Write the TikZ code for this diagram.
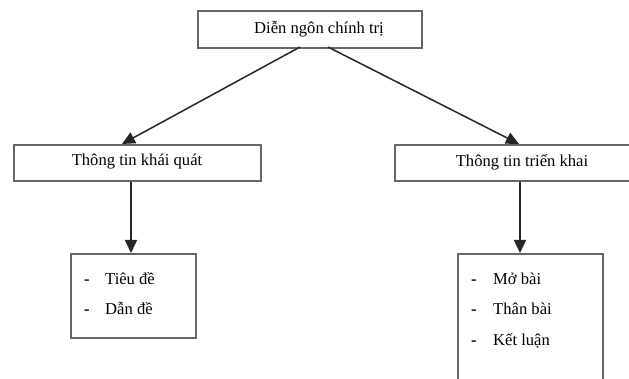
\documentclass[tikz,border=0pt]{standalone}
\usepackage{fontspec}
\setmainfont{Liberation Serif}
\usetikzlibrary{arrows.meta}
\begin{document}
\begin{tikzpicture}[x=1pt,y=-1pt,
  box/.style={draw=black!60,line width=1.8pt,inner sep=0pt,anchor=north west},
  lbl/.style={font=\fontsize{16.6}{18}\selectfont,inner sep=0pt},
  item/.style={font=\fontsize{16.6}{18}\selectfont,inner sep=0pt,anchor=base west},
  dsh/.style={font=\fontsize{16.6}{18}\selectfont\bfseries,inner sep=0pt,anchor=base west},
  conn/.style={draw=black!85,line width=1.5pt,-{Triangle[length=13pt,width=12pt]}}]
\useasboundingbox (0,0) rectangle (629,379);
\clip (0,0) rectangle (629,379);
\node[box,minimum width=224pt,minimum height=37pt] (top) at (197,10) {};
\node[lbl] (toptxt) at (319,29) {Diễn ngôn chính trị};
\node[box,minimum width=247pt,minimum height=36pt] (left) at (13,144) {};
\node[lbl] (lefttxt) at (137,162) {Thông tin khái quát};
\node[box,minimum width=260pt,minimum height=36pt] (right) at (394,144) {};
\node[lbl] (righttxt) at (522,162) {Thông tin triển khai};
\node[box,minimum width=125pt,minimum height=84pt] (lb) at (70,253) {};
\node[box,minimum width=145pt,minimum height=140pt] (rb) at (457,253) {};
\node[dsh] (l1d) at (84,285) {-};
\node[item] (l1) at (105,285) {Tiêu đề};
\node[dsh] (l2d) at (84,315) {-};
\node[item] (l2) at (105,315) {Dẫn đề};
\node[dsh] (r1d) at (471,285) {-};
\node[item] (r1) at (493,285) {Mở bài};
\node[dsh] (r2d) at (471,315) {-};
\node[item] (r2) at (493,315) {Thân bài};
\node[dsh] (r3d) at (471,345) {-};
\node[item] (r3) at (493,345) {Kết luận};
\coordinate (ts1) at (300,47);
\coordinate (ts2) at (328,47);
\coordinate (le) at (122,144);
\coordinate (re) at (519,144);
\draw[conn] (ts1) -- (le);
\draw[conn] (ts2) -- (re);
\draw[conn] (left.south -| 131,0) -- (lb.north -| 131,0);
\draw[conn] (right.south -| 520,0) -- (rb.north -| 520,0);
\end{tikzpicture}
\end{document}
